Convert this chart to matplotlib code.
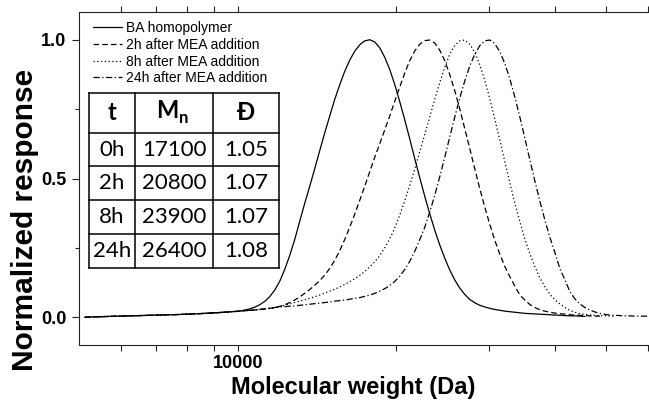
import numpy as np
import matplotlib
matplotlib.use("Agg")
import matplotlib.pyplot as plt
from matplotlib.ticker import FixedLocator, FuncFormatter, NullFormatter
from matplotlib.lines import Line2D

plt.rcParams['font.family'] = ['Liberation Sans', 'DejaVu Sans']

# ---------------- data ----------------
nan = np.nan
mw = [5130, 5470, 5970, 6810, 7760, 8470, 9240, 10090,
      10540, 10770, 11010, 11250, 11500, 11760, 12020, 12280, 12550, 12830,
      13110, 13400, 13700, 14000, 14310, 14630, 14950, 15280, 15620, 15960,
      16320, 16680, 17050, 17420, 17810, 18200, 18600, 19010, 19430, 19860,
      20300, 20750, 21210, 21680, 22160, 22650, 23150, 23660, 24180, 24720,
      25260, 25820, 26390, 26970, 27570, 28180, 28800, 29440, 30090, 30750,
      31430, 32130, 32840, 33560, 34310, 35060, 35840, 36630, 37440, 38270,
      39110, 39980, 40860, 41760, 42690, 43630, 44590, 45580, 46580, 47610,
      48670, 49740, 50840, 51960, 53110, 54290, 55490, 56710, 57970, 59250, 60560]

ba_homopolymer = [0.000, 0.002, 0.004, 0.007, 0.010, 0.013, 0.017, 0.022,
                  0.030, 0.036, 0.045, 0.057, 0.074, 0.098, 0.130, 0.172, 0.222, 0.280,
                  0.345, 0.410, 0.472, 0.535, 0.600, 0.665, 0.725, 0.785, 0.838, 0.886,
                  0.927, 0.959, 0.982, 0.996, 1.000, 0.992, 0.971, 0.937, 0.893, 0.839,
                  0.777, 0.711, 0.642, 0.571, 0.502, 0.435, 0.372, 0.313, 0.260, 0.212,
                  0.170, 0.134, 0.105, 0.082, 0.064, 0.052, 0.043, 0.037, 0.032, 0.028,
                  0.025, 0.022, 0.020, 0.018, 0.016, 0.014, 0.013, 0.012, 0.011, 0.010,
                  0.009, 0.008, 0.007, 0.006, 0.005, 0.005, 0.004, 0.003, nan, nan,
                  nan, nan, nan, nan, nan, nan, nan, nan, nan, nan, nan]
mea_2h = [0.000, 0.002, 0.004, 0.007, 0.010, 0.013, 0.017, 0.022,
          0.025, 0.026, 0.028, 0.030, 0.032, 0.035, 0.039, 0.045, 0.053, 0.062,
          0.073, 0.086, 0.100, 0.115, 0.132, 0.152, 0.176, 0.205, 0.240, 0.280,
          0.325, 0.372, 0.422, 0.472, 0.525, 0.577, 0.625, 0.675, 0.725, 0.778,
          0.830, 0.880, 0.925, 0.960, 0.984, 0.997, 0.999, 0.988, 0.962, 0.924,
          0.874, 0.816, 0.750, 0.679, 0.607, 0.534, 0.463, 0.396, 0.334, 0.277,
          0.227, 0.183, 0.146, 0.112, 0.080, 0.062, 0.046, 0.035, 0.027, 0.022,
          0.018, 0.015, 0.013, 0.011, 0.009, 0.008, 0.007, 0.006, 0.005, 0.004,
          0.004, nan, nan, nan, nan, nan, nan, nan, nan, nan, nan]
mea_8h = [0.000, 0.002, 0.004, 0.007, 0.010, 0.013, 0.017, 0.022,
          0.025, 0.026, 0.028, 0.030, 0.032, 0.035, 0.039, 0.043, 0.048, 0.053,
          0.058, 0.063, 0.068, 0.074, 0.080, 0.087, 0.094, 0.101, 0.109, 0.118,
          0.128, 0.139, 0.151, 0.165, 0.182, 0.200, 0.222, 0.250, 0.282, 0.322,
          0.368, 0.420, 0.475, 0.535, 0.597, 0.660, 0.723, 0.786, 0.846, 0.902,
          0.948, 0.980, 0.996, 0.999, 0.984, 0.954, 0.909, 0.853, 0.787, 0.714,
          0.638, 0.560, 0.484, 0.411, 0.344, 0.282, 0.229, 0.182, 0.142, 0.110,
          0.083, 0.063, 0.048, 0.035, 0.025, 0.018, 0.013, 0.010, 0.008, 0.007,
          0.006, 0.005, 0.004, 0.004, nan, nan, nan, nan, nan, nan, nan]
mea_24h = [0.000, 0.002, 0.004, 0.007, 0.010, 0.013, 0.017, 0.022,
           0.025, 0.026, 0.028, 0.030, 0.032, 0.035, 0.037, 0.038, 0.040, 0.041,
           0.043, 0.045, 0.047, 0.049, 0.051, 0.053, 0.055, 0.058, 0.060, 0.062,
           0.065, 0.068, 0.071, 0.075, 0.080, 0.086, 0.094, 0.103, 0.114, 0.129,
           0.148, 0.172, 0.202, 0.238, 0.280, 0.325, 0.380, 0.440, 0.507, 0.578,
           0.650, 0.722, 0.790, 0.852, 0.906, 0.948, 0.979, 0.996, 0.999, 0.986,
           0.957, 0.914, 0.859, 0.794, 0.721, 0.645, 0.567, 0.491, 0.418, 0.350,
           0.288, 0.233, 0.175, 0.135, 0.092, 0.066, 0.048, 0.035, 0.026, 0.019,
           0.014, 0.010, 0.008, 0.007, 0.006, 0.005, 0.005, 0.004, 0.004, 0.004, 0.004]
series_labels = ['BA homopolymer', '2h after MEA addition',
                 '8h after MEA addition', '24h after MEA addition']

table_time = ['0h', '2h', '8h', '24h']
table_mn = ['17100', '20800', '23900', '26400']
table_disp = ['1.05', '1.07', '1.07', '1.08']

x_major = [10000]
x_minor = [6000, 7000, 8000, 9000, 20000, 30000, 40000, 50000, 60000]
y_major = [0.0, 0.5, 1.0]
y_minor = [0.25, 0.75]

# ---------------- figure ----------------
W, H = 649, 407
fig = plt.figure(figsize=(W / 100, H / 100), dpi=100)
ax = fig.add_axes([79 / W, 1 - 345 / H, 580 / W, 333 / H])

styles = ['-', (0, (4.5, 2.5)), (0, (1, 2)), (0, (5, 2, 1, 2))]
for vals, lab, ls in zip([ba_homopolymer, mea_2h, mea_8h, mea_24h], series_labels, styles):
    ax.plot(mw, vals, color='black', lw=0.9, ls=ls, label=lab)

ax.set_xscale('log')
ax.set_xlim(5000, 63000)
ax.set_ylim(-0.1, 1.1)

ax.xaxis.set_major_locator(FixedLocator(x_major))
ax.xaxis.set_major_formatter(FuncFormatter(lambda v, p: f'{v:.0f}'))
ax.xaxis.set_minor_locator(FixedLocator(x_minor))
ax.xaxis.set_minor_formatter(NullFormatter())
ax.yaxis.set_major_locator(FixedLocator(y_major))
ax.yaxis.set_major_formatter(FuncFormatter(lambda v, p: f'{v:.1f}'))
ax.yaxis.set_minor_locator(FixedLocator(y_minor))

for s in ax.spines.values():
    s.set_linewidth(0.8)
    s.set_color('#222222')

ax.tick_params(axis='both', which='both', direction='out', width=0.8, color='#222222')
ax.tick_params(axis='y', which='major', length=5, pad=4, labelsize=13)
ax.tick_params(axis='y', which='minor', length=3)
ax.tick_params(axis='x', which='both', length=4, top=True, pad=3, labelsize=13)
for lbl in ax.get_xticklabels() + ax.get_yticklabels():
    lbl.set_fontweight('bold')

ax.set_xlabel('Molecular weight (Da)', fontsize=17, fontweight='bold')
ax.xaxis.set_label_coords((353 - 79) / 580, -(376 - 345) / 333)
fig.text(25 / W, 1 - 220 / H, 'Normalized response', rotation=90, fontsize=21.5,
         fontweight='bold', ha='center', va='center')

leg = ax.legend(loc='upper left', bbox_to_anchor=(0.0236, 0.973), frameon=False,
                fontsize=10, handlelength=2.1, handletextpad=0.3, labelspacing=0.2,
                borderpad=0, borderaxespad=0)

# ---------------- table ----------------
def fx(x):
    return x / W

def fy(y):
    return 1 - y / H

col_edges = [88.7, 135, 213.3, 279]
row_edges = [92.7, 132.7, 166.3, 200, 234, 268]
for yy in row_edges:
    fig.add_artist(Line2D([fx(col_edges[0]), fx(col_edges[-1])], [fy(yy), fy(yy)],
                          color='black', lw=1.1))
for xx in col_edges:
    fig.add_artist(Line2D([fx(xx), fx(xx)], [fy(row_edges[0]), fy(row_edges[-1])],
                          color='black', lw=1.1))

tfont = 'Lato'
col_c = [(col_edges[i] + col_edges[i + 1]) / 2 for i in range(3)]
hy = (row_edges[0] + row_edges[1]) / 2
fig.text(fx(col_c[0]), fy(hy), 't', fontsize=17, fontweight='bold', family=tfont,
         ha='center', va='center')
fig.text(fx(col_c[1] + 4), fy(hy - 2), 'M', fontsize=17, fontweight='bold', family=tfont,
         ha='right', va='center')
fig.text(fx(col_c[1] + 5), fy(hy + 5), 'n', fontsize=12, fontweight='bold', family=tfont,
         ha='left', va='center')
fig.text(fx(col_c[2]), fy(hy), 'Đ', fontsize=17, fontweight='bold', family=[tfont, 'DejaVu Sans'],
         ha='center', va='center')
for i, (t, m, d) in enumerate(zip(table_time, table_mn, table_disp)):
    yc = (row_edges[i + 1] + row_edges[i + 2]) / 2
    for txt, xc in zip([t, m, d], col_c):
        fig.text(fx(xc), fy(yc), txt, fontsize=16, family=tfont, ha='center', va='center')

fig.savefig('out.png', dpi=100)
